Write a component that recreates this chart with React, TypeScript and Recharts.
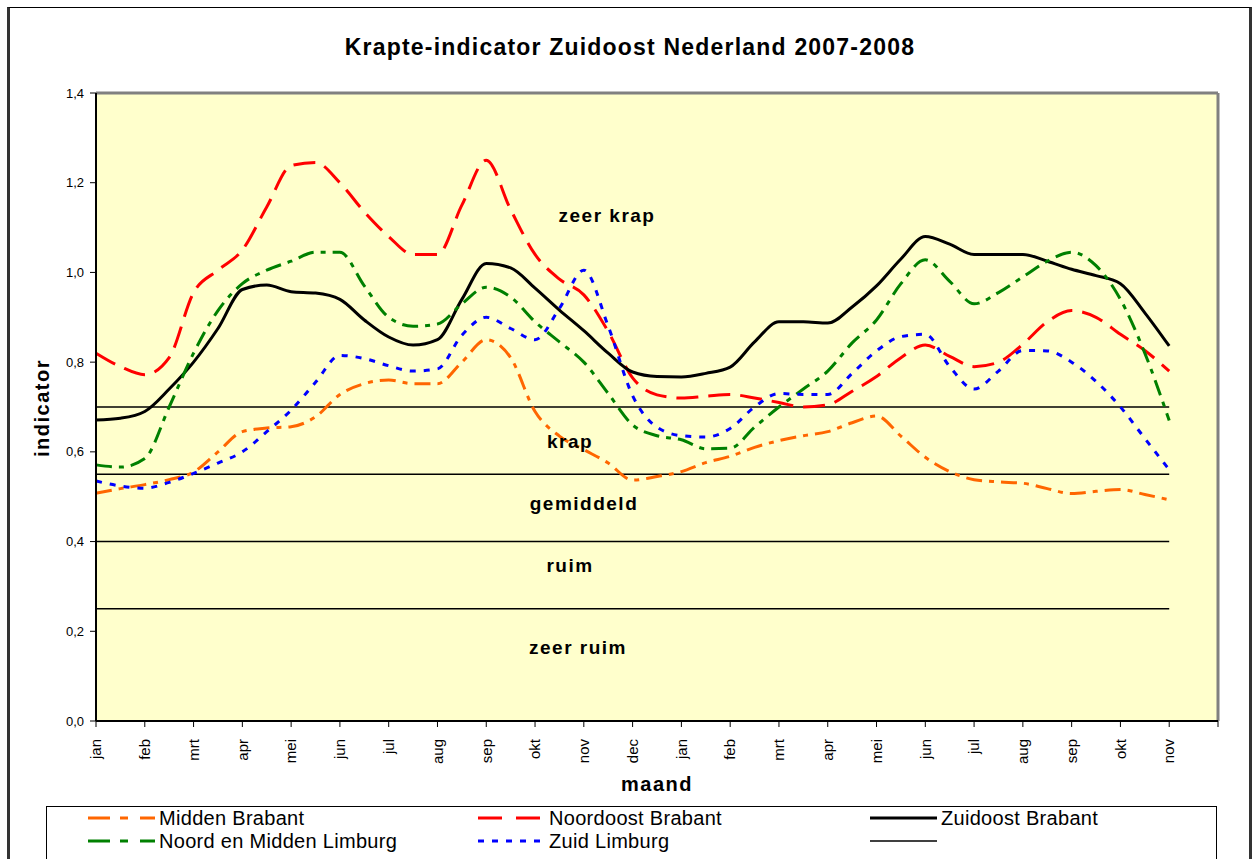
import React from 'react'
import {
  LineChart,
  Line,
  XAxis,
  YAxis,
  CartesianGrid,
  ReferenceLine
} from 'recharts'

// month labels on the axis (2007 jan .. 2008 nov, plus one empty slot)
const months = [
  'jan', 'feb', 'mrt', 'apr', 'mei', 'jun', 'jul', 'aug', 'sep', 'okt', 'nov', 'dec',
  'jan', 'feb', 'mrt', 'apr', 'mei', 'jun', 'jul', 'aug', 'sep', 'okt', 'nov', ''
]

// half-month readings, jan 2007 .. nov 2008
const middenBrabant = [
  0.508, 0.518, 0.527, 0.538, 0.555, 0.6, 0.645, 0.653, 0.656, 0.678, 0.728, 0.752,
  0.76, 0.752, 0.752, 0.8, 0.85, 0.81, 0.69, 0.635, 0.605, 0.575, 0.537, 0.545,
  0.556, 0.576, 0.59, 0.61, 0.625, 0.636, 0.645, 0.665, 0.68, 0.635, 0.588, 0.556,
  0.538, 0.533, 0.53, 0.518, 0.507, 0.512, 0.516, 0.505, 0.493
]
const noordoostBrabant = [
  0.82, 0.79, 0.772, 0.81, 0.955, 1.005, 1.05, 1.146, 1.238, 1.245, 1.2, 1.135,
  1.08, 1.04, 1.04, 1.15, 1.25, 1.14, 1.04, 0.985, 0.95, 0.868, 0.765, 0.727,
  0.72, 0.724, 0.728, 0.72, 0.71, 0.7, 0.705, 0.735, 0.768, 0.81, 0.838, 0.813,
  0.79, 0.8, 0.84, 0.89, 0.915, 0.9, 0.862, 0.826, 0.78
]
const zuidoostBrabant = [
  0.671, 0.675, 0.69, 0.74, 0.8, 0.875, 0.962, 0.972, 0.957, 0.954, 0.94, 0.894,
  0.856, 0.838, 0.85, 0.94, 1.02, 1.01, 0.965, 0.916, 0.87, 0.82, 0.778, 0.768,
  0.767, 0.775, 0.789, 0.845, 0.89, 0.89, 0.887, 0.923, 0.97, 1.03, 1.08, 1.063,
  1.04, 1.04, 1.04, 1.025, 1.007, 0.993, 0.975, 0.91, 0.836
]
const noordMiddenLimburg = [
  0.571, 0.566, 0.585, 0.7, 0.82, 0.915, 0.975, 1.005, 1.025, 1.045, 1.045, 0.97,
  0.9, 0.88, 0.885, 0.93, 0.967, 0.945, 0.89, 0.845, 0.8, 0.73, 0.66, 0.636,
  0.627, 0.607, 0.608, 0.655, 0.7, 0.74, 0.78, 0.843, 0.894, 0.975, 1.028, 0.98,
  0.93, 0.955, 0.99, 1.025, 1.045, 1.015, 0.94, 0.82, 0.67
]
const zuidLimburg = [
  0.535, 0.524, 0.519, 0.532, 0.552, 0.575, 0.6, 0.645, 0.693, 0.755, 0.815, 0.808,
  0.792, 0.78, 0.785, 0.86, 0.9, 0.875, 0.85, 0.92, 1.005, 0.88, 0.725, 0.655,
  0.636, 0.633, 0.652, 0.7, 0.73, 0.728, 0.728, 0.775, 0.825, 0.857, 0.862, 0.79,
  0.74, 0.78, 0.826, 0.825, 0.8, 0.757, 0.7, 0.63, 0.56
]

// class boundaries and their names
const bands = [0.7, 0.55, 0.4, 0.25]
const bandLabels = ['zeer krap', 'krap', 'gemiddeld', 'ruim', 'zeer ruim']

const yTicks = [0, 0.2, 0.4, 0.6, 0.8, 1.0, 1.2, 1.4]

const series = [
  { key: 'mb', name: 'Midden Brabant', values: middenBrabant, color: '#FF6600', dash: '16 7 5 7', legendDash: '22 10 8 12', width: 3 },
  { key: 'nob', name: 'Noordoost Brabant', values: noordoostBrabant, color: '#FF0000', dash: '22 10', legendDash: '24 14', width: 3 },
  { key: 'zob', name: 'Zuidoost Brabant', values: zuidoostBrabant, color: '#000000', dash: undefined, legendDash: undefined, width: 3 },
  { key: 'nml', name: 'Noord en Midden Limburg', values: noordMiddenLimburg, color: '#008000', dash: '16 7 5 7', legendDash: '22 10 8 12', width: 3 },
  { key: 'zl', name: 'Zuid Limburg', values: zuidLimburg, color: '#0000FF', dash: '6 8', legendDash: '6 8', width: 3 }
]

const data = middenBrabant.map((_, i) => {
  const row: Record<string, number> = { t: i / 2 }
  series.forEach(s => { row[s.key] = s.values[i] })
  return row
})

const font = '"Liberation Sans", Arial, sans-serif'

const MonthTick = (props: any) => {
  const { x, y, payload } = props
  const ty = y + 10
  return (
    <text
      x={x}
      y={ty}
      transform={`rotate(-90 ${x} ${ty})`}
      textAnchor="end"
      dy="0.35em"
      fontSize={15}
      fontFamily={font}
      fill="#000"
    >
      {months[payload.value]}
    </text>
  )
}

const bandText: React.CSSProperties = {
  position: 'absolute',
  transform: 'translate(-50%, -50%)',
  fontFamily: font,
  fontWeight: 'bold',
  fontSize: 19,
  letterSpacing: 1.5,
  whiteSpace: 'nowrap'
}

// centre points of the band names
const bandPos = [
  [607, 216],
  [570, 442],
  [584, 504],
  [570, 566],
  [578, 648]
]

const LegendSample = ({ color, dash, width }: any) => (
  <svg width={67} height={10} style={{ display: 'block' }}>
    <line x1={0} y1={5} x2={67} y2={5} stroke={color} strokeWidth={width} strokeDasharray={dash} />
  </svg>
)

const legendCols = [88, 478, 870]
const legendRows = [818, 841]

export default function App() {
  const legendItems = [
    ...series,
    { key: 'grens', name: '', color: '#000000', legendDash: undefined, width: 1.5 }
  ]

  return (
    <div style={{ position: 'absolute', left: 0, top: 0, width: 1252, height: 859, overflow: 'hidden', background: '#fff', fontFamily: font }}>
      <div
        style={{
          position: 'absolute',
          left: 7,
          top: 7,
          width: 1239,
          height: 900,
          borderTop: '1px solid #000',
          borderLeft: '3px solid #333',
          borderRight: '3px solid #333'
        }}
      />
      <div
        style={{
          position: 'absolute',
          left: 0,
          width: 1260,
          top: 34,
          textAlign: 'center',
          fontWeight: 'bold',
          fontSize: 23,
          letterSpacing: 1.2
        }}
      >
        Krapte-indicator Zuidoost Nederland 2007-2008
      </div>

      <div style={{ position: 'absolute', left: 0, top: 0 }}>
        <LineChart
          width={1252}
          height={859}
          data={data}
          margin={{ top: 93, right: 34, left: 46, bottom: 78 }}
        >
          <CartesianGrid fill="#FFFFCC" horizontal={false} vertical={false} />
          <XAxis
            dataKey="t"
            type="number"
            domain={[0, 23]}
            ticks={months.map((_, i) => i)}
            interval={0}
            height={60}
            tickSize={6}
            tick={<MonthTick />}
            axisLine={{ stroke: '#000', strokeWidth: 2 }}
            tickLine={{ stroke: '#000' }}
          />
          <YAxis
            type="number"
            domain={[0, 1.4]}
            ticks={yTicks}
            width={50}
            tickSize={6}
            tickMargin={6}
            tickFormatter={(v: number) => v.toFixed(1).replace('.', ',')}
            tick={{ fontSize: 13, fill: '#000', fontFamily: font }}
            axisLine={{ stroke: '#000', strokeWidth: 2 }}
            tickLine={{ stroke: '#000' }}
          />
          <ReferenceLine y={1.4} stroke="#808080" strokeWidth={3} />
          <ReferenceLine x={23} stroke="#808080" strokeWidth={3} />
          {bands.map(b => (
            <ReferenceLine
              key={b}
              segment={[{ x: 0, y: b }, { x: 22, y: b }]}
              stroke="#000"
              strokeWidth={1.5}
            />
          ))}
          {series.map(s => (
            <Line
              key={s.key}
              type="monotone"
              dataKey={s.key}
              name={s.name}
              stroke={s.color}
              strokeWidth={s.width}
              strokeDasharray={s.dash}
              dot={false}
              activeDot={false}
              isAnimationActive={false}
            />
          ))}
        </LineChart>
      </div>

      {bandLabels.map((label, i) => (
        <div key={label} style={{ ...bandText, left: bandPos[i][0], top: bandPos[i][1] }}>
          {label}
        </div>
      ))}

      <div
        style={{
          position: 'absolute',
          left: 42,
          top: 408,
          transform: 'translate(-50%, -50%) rotate(-90deg)',
          fontWeight: 'bold',
          fontSize: 20,
          letterSpacing: 1.5,
          whiteSpace: 'nowrap'
        }}
      >
        indicator
      </div>
      <div
        style={{
          position: 'absolute',
          left: 657,
          top: 784,
          transform: 'translate(-50%, -50%)',
          fontWeight: 'bold',
          fontSize: 20,
          letterSpacing: 1.5
        }}
      >
        maand
      </div>

      <div
        style={{
          position: 'absolute',
          left: 46,
          top: 806,
          width: 1171,
          height: 80,
          border: '1px solid #000',
          boxSizing: 'border-box'
        }}
      />
      {legendItems.map((item, i) => {
        const col = i % 3
        const row = Math.floor(i / 3)
        return (
          <div
            key={item.key}
            style={{
              position: 'absolute',
              left: legendCols[col],
              top: legendRows[row],
              transform: 'translateY(-50%)',
              display: 'flex',
              alignItems: 'center',
              fontSize: 20,
              letterSpacing: 0.3,
              lineHeight: '22px',
              whiteSpace: 'nowrap'
            }}
          >
            <LegendSample color={item.color} dash={item.legendDash} width={item.width} />
            <span style={{ marginLeft: 4 }}>{item.name}</span>
          </div>
        )
      })}
    </div>
  )
}
